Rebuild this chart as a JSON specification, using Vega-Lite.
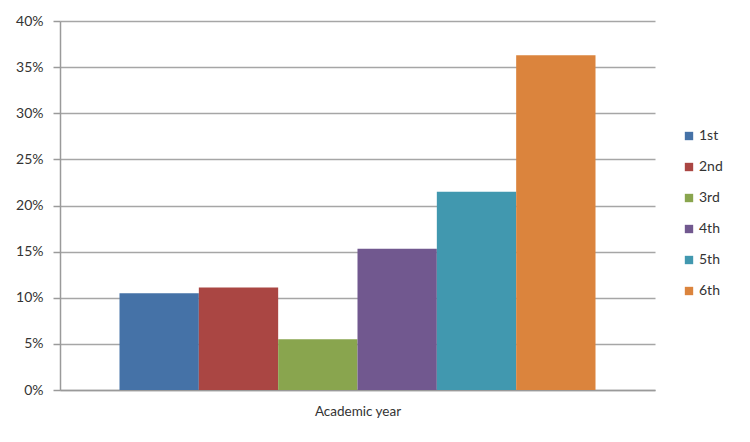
{
  "$schema": "https://vega.github.io/schema/vega-lite/v6.json",
  "width": 595,
  "height": 369,
  "autosize": {"type": "none"},
  "padding": {"left": 60, "top": 21, "right": 95, "bottom": 52},
  "background": "white",
  "data": {
    "values": [
      {"group": "Academic year", "year": "1st", "share": 0.105},
      {"group": "Academic year", "year": "2nd", "share": 0.111},
      {"group": "Academic year", "year": "3rd", "share": 0.055},
      {"group": "Academic year", "year": "4th", "share": 0.153},
      {"group": "Academic year", "year": "5th", "share": 0.215},
      {"group": "Academic year", "year": "6th", "share": 0.363}
    ]
  },
  "mark": {"type": "bar"},
  "encoding": {
    "x": {
      "field": "group",
      "type": "nominal",
      "scale": {"paddingInner": 0, "paddingOuter": 0.125},
      "axis": {
        "labels": false,
        "ticks": false,
        "title": "Academic year",
        "titleFont": "Lato",
        "titleFontSize": 13.5,
        "titleFontWeight": "normal",
        "titleColor": "#333333",
        "titlePadding": 14,
        "domainColor": "#9a9a9a",
        "domainWidth": 1.5
      }
    },
    "xOffset": {"field": "year", "type": "nominal", "scale": {"paddingInner": 0, "paddingOuter": 0}},
    "y": {
      "field": "share",
      "type": "quantitative",
      "scale": {"domain": [0, 0.4], "nice": false},
      "axis": {
        "values": [0, 0.05, 0.1, 0.15, 0.2, 0.25, 0.3, 0.35, 0.4],
        "format": ".0%",
        "title": null,
        "labelFont": "Lato",
        "labelFontSize": 14,
        "labelColor": "#333333",
        "labelPadding": 10,
        "tickColor": "#9a9a9a",
        "tickSize": 7,
        "tickWidth": 1.5,
        "gridColor": "#a6a6a6",
        "gridWidth": 1.5,
        "domainColor": "#9a9a9a",
        "domainWidth": 1.5
      }
    },
    "color": {
      "field": "year",
      "type": "nominal",
      "scale": {
        "domain": ["1st", "2nd", "3rd", "4th", "5th", "6th"],
        "range": ["#4572a7", "#aa4643", "#89a54e", "#71588f", "#4198af", "#db843d"]
      },
      "legend": {
        "title": null,
        "orient": "none",
        "legendX": 622,
        "legendY": 108,
        "symbolType": "square",
        "symbolSize": 70,
        "symbolStrokeWidth": 0,
        "labelFont": "Lato",
        "labelFontSize": 14,
        "labelColor": "#333333",
        "labelOffset": 3,
        "rowPadding": 17
      }
    }
  },
  "config": {
    "view": {"stroke": null}
  }
}
